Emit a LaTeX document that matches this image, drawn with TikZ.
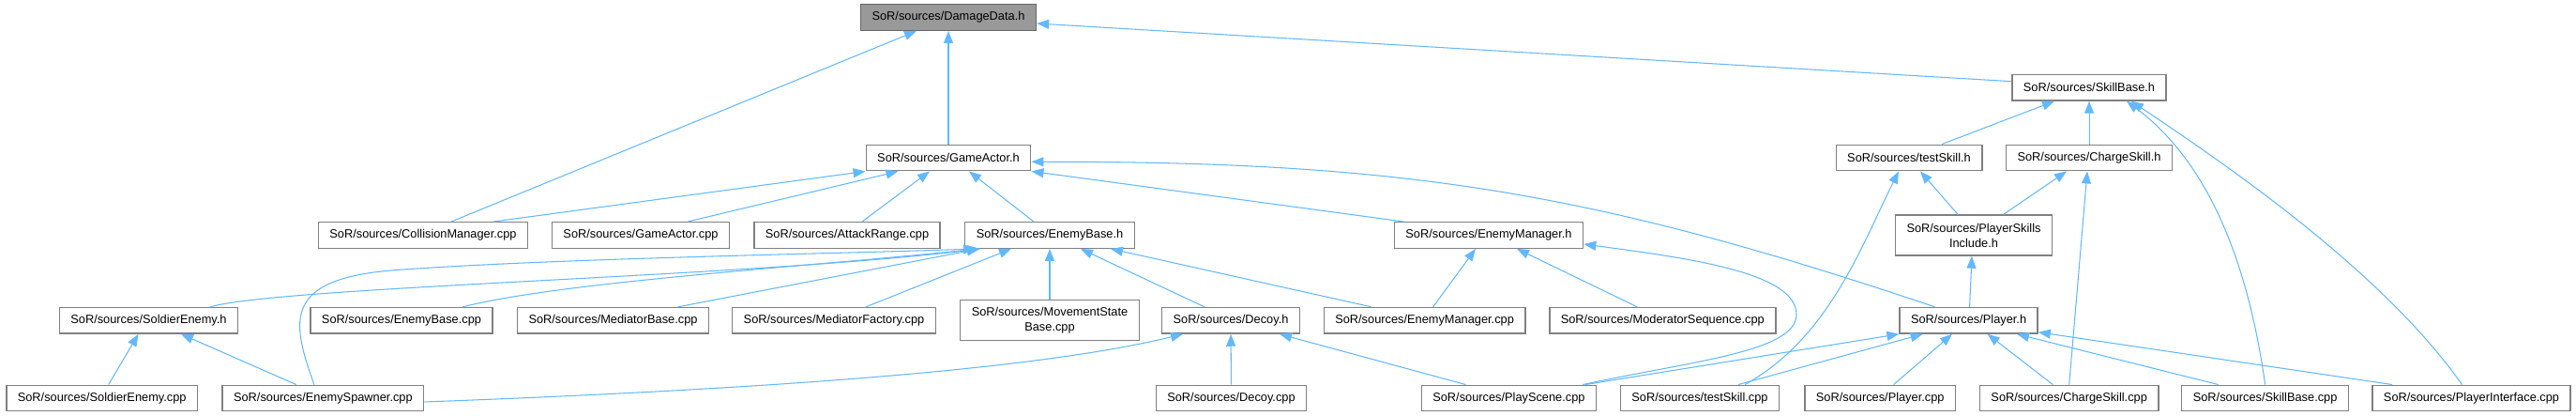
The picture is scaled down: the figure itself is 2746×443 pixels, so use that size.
\documentclass[tikz,border=0pt]{standalone}
\usepackage{fontspec}
\setmainfont{Liberation Sans}
\usepackage{tikz}
\usetikzlibrary{arrows.meta,positioning,calc}
\definecolor{edgeBlue}{RGB}{99,184,255}
\definecolor{boxGray}{RGB}{128,128,128}
\definecolor{rootFill}{RGB}{153,153,153}
\definecolor{rootLine}{RGB}{102,102,102}
\tikzset{
	fbox/.style={
		draw=boxGray,
		fill=white,
		line width=1.4pt,
		align=center,
		inner xsep=12pt,
		inner ysep=0pt,
		minimum height=27.5pt,
		font=\fontsize{12.8}{16}\selectfont
	},
	rootbox/.style={fbox, draw=rootLine, fill=rootFill},
	incl/.style={-{Triangle[length=13pt,width=10pt]}, line width=1.05pt, edgeBlue}
}
\begin{document}
\begin{tikzpicture}[x=1pt, y=-1pt]
		\useasboundingbox (0,0) rectangle (2746,443);
		\node[rootbox] (dmg) at (1011,18.5) {SoR/sources/DamageData.h};
		\node[fbox] (gact) at (1011,168) {SoR/sources/GameActor.h};
		\node[fbox] (skillb) at (2227,93.3) {SoR/sources/SkillBase.h};
		\node[fbox] (tskill) at (2035,168) {SoR/sources/testSkill.h};
		\node[fbox] (cskill) at (2227,168) {SoR/sources/ChargeSkill.h};
		\node[fbox] (colm) at (451,250.5) {SoR/sources/CollisionManager.cpp};
		\node[fbox] (gacpp) at (683,250.5) {SoR/sources/GameActor.cpp};
		\node[fbox] (atkr) at (903,250.5) {SoR/sources/AttackRange.cpp};
		\node[fbox] (ebase) at (1119,250.5) {SoR/sources/EnemyBase.h};
		\node[fbox] (emgr) at (1587,250.5) {SoR/sources/EnemyManager.h};
		\node[fbox, minimum height=43pt] (psinc) at (2104,250.5) {SoR/sources/PlayerSkills\\Include.h};
		\node[fbox] (soldh) at (158.5,341.3) {SoR/sources/SoldierEnemy.h};
		\node[fbox] (ebcpp) at (428,341.3) {SoR/sources/EnemyBase.cpp};
		\node[fbox] (medb) at (653.5,341.3) {SoR/sources/MediatorBase.cpp};
		\node[fbox] (medf) at (889,341.3) {SoR/sources/MediatorFactory.cpp};
		\node[fbox, minimum height=43pt] (mvst) at (1119,341.3) {SoR/sources/MovementState\\Base.cpp};
		\node[fbox] (decoyh) at (1312,341.3) {SoR/sources/Decoy.h};
		\node[fbox] (emcpp) at (1518.6,341.3) {SoR/sources/EnemyManager.cpp};
		\node[fbox] (modseq) at (1772.3,341.3) {SoR/sources/ModeratorSequence.cpp};
		\node[fbox] (playerh) at (2098.6,341.3) {SoR/sources/Player.h};
		\node[fbox] (soldcpp) at (108.7,424) {SoR/sources/SoldierEnemy.cpp};
		\node[fbox] (espawn) at (344.4,424) {SoR/sources/EnemySpawner.cpp};
		\node[fbox] (decoycpp) at (1312.5,424) {SoR/sources/Decoy.cpp};
		\node[fbox] (pscene) at (1608.4,424) {SoR/sources/PlayScene.cpp};
		\node[fbox] (tscpp) at (1812,424) {SoR/sources/testSkill.cpp};
		\node[fbox] (plcpp) at (2004.2,424) {SoR/sources/Player.cpp};
		\node[fbox] (cscpp) at (2205.7,424) {SoR/sources/ChargeSkill.cpp};
		\node[fbox] (sbcpp) at (2414.6,424) {SoR/sources/SkillBase.cpp};
		\node[fbox] (pintf) at (2634.5,424) {SoR/sources/PlayerInterface.cpp};
		\draw[incl] ([xshift=30pt]colm.north) -- ([xshift=-34pt]dmg.south);
		\draw[incl] (gact) -- (dmg);
		\draw[incl] ([yshift=6.6pt]skillb.west) -- ([yshift=-6.5pt]dmg.east);
		\draw[incl] ([xshift=75pt]colm.north) -- (gact.south west);
		\draw[incl] ([xshift=50pt]gacpp.north) -- ([xshift=-53.5pt]gact.south);
		\draw[incl] ([xshift=16pt]atkr.north) -- ([xshift=-20pt]gact.south);
		\draw[incl] ([xshift=-17pt]ebase.north) -- ([xshift=22pt]gact.south);
		\draw[incl] ([xshift=-90.5pt]emgr.north) -- (gact.south east);
		\draw[incl] ([xshift=-36pt]playerh.north) .. controls (1700,205) and (1500,172) .. ([yshift=-4.3pt]gact.east);
		\draw[incl] ([xshift=65.5pt]soldh.north) .. controls (300,305) and (800,295) .. ([xshift=-74pt]ebase.south);
		\draw[incl] ([xshift=65pt]ebcpp.north) .. controls (600,300) and (850,285) .. ([xshift=-75pt]ebase.south);
		\draw[incl] ([xshift=69pt]medb.north) -- ([xshift=-75pt]ebase.south);
		\draw[incl] ([xshift=34pt]medf.north) -- ([xshift=-41pt]ebase.south);
		\draw[incl] (mvst) -- (ebase);
		\draw[incl] ([xshift=-28pt]decoyh.north) -- ([xshift=33pt]ebase.south);
		\draw[incl] ([xshift=-56.6pt]emcpp.north) -- ([xshift=65pt]ebase.south);
		\draw[incl] ([xshift=-9.5pt]espawn.north) .. controls (310,340) and (300,295) .. (430,287) .. controls (600,275) and (900,270) .. ([xshift=-79pt]ebase.south);
		\draw[incl] ([xshift=9pt]emcpp.north) -- ([xshift=-14pt]emgr.south);
		\draw[incl] ([xshift=-27pt]modseq.north) -- ([xshift=30pt]emgr.south);
		\draw[incl] ([xshift=79pt]pscene.north) .. controls (1800,385) and (1915,375) .. (1915,335) .. controls (1915,290) and (1800,275) .. ([yshift=-9.5pt]emgr.east);
		\draw[incl] ([xshift=7pt]soldcpp.north) -- ([xshift=-11pt]soldh.south);
		\draw[incl] ([xshift=-28.7pt]espawn.north) -- ([xshift=34.5pt]soldh.south);
		\draw[incl] ([yshift=-4pt]espawn.east) .. controls (800,415) and (1100,395) .. ([xshift=-51pt]decoyh.south);
		\draw[incl] (decoycpp) -- (decoyh);
		\draw[incl] ([xshift=-46pt]pscene.north) -- ([xshift=52pt]decoyh.south);
		\draw[incl] ([xshift=35pt]tskill.north) -- ([xshift=-37pt]skillb.south);
		\draw[incl] (cskill) -- (skillb);
		\draw[incl] (sbcpp.north) .. controls (2395,270) and (2350,170) .. ([xshift=40pt]skillb.south);
		\draw[incl] ([xshift=-10pt]pintf.north) .. controls (2540,290) and (2380,180) .. ([xshift=45pt]skillb.south);
		\draw[incl] ([xshift=-17pt]psinc.north) -- ([xshift=12pt]tskill.south);
		\draw[incl] ([xshift=48pt]tscpp.north) .. controls (1950,360) and (1985,260) .. ([xshift=-11pt]tskill.south);
		\draw[incl] ([xshift=31.7pt]psinc.north) -- ([xshift=-24pt]cskill.south);
		\draw[incl] (cscpp.north) -- ([xshift=-2pt]cskill.south);
		\draw[incl] ([xshift=1pt]playerh.north) -- ([xshift=-2pt]psinc.south);
		\draw[incl] ([xshift=81.5pt]pscene.north) -- (playerh.south west);
		\draw[incl] ([xshift=41pt]tscpp.north) -- ([xshift=-49pt]playerh.south);
		\draw[incl] ([xshift=14.4pt]plcpp.north) -- ([xshift=-17.6pt]playerh.south);
		\draw[incl] ([xshift=-17.4pt]cscpp.north) -- ([xshift=20pt]playerh.south);
		\draw[incl] ([xshift=-50pt]sbcpp.north) -- ([xshift=51.4pt]playerh.south);
		\draw[incl] ([xshift=-84.5pt]pintf.north) -- ([yshift=2pt]playerh.south east);
	\end{tikzpicture}
\end{document}
